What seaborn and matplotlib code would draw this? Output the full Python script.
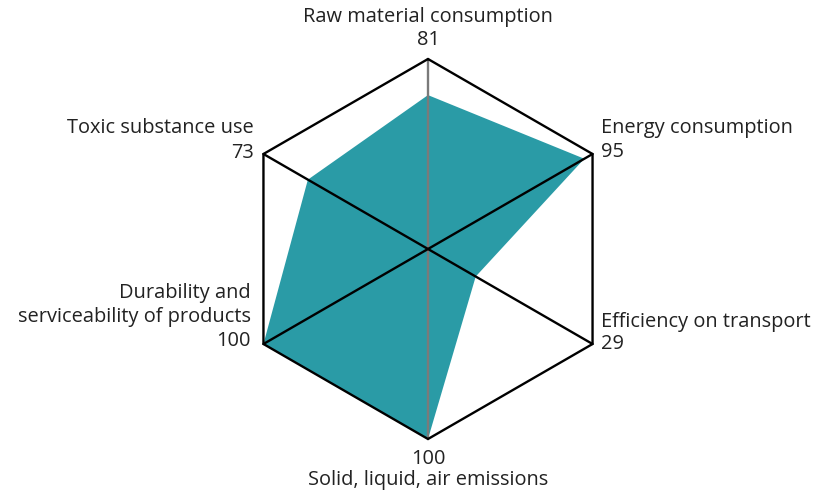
import numpy as np
import matplotlib
matplotlib.use("Agg")
import matplotlib.pyplot as plt
import seaborn as sns

# axis labels, clockwise from the top
categories = [
    "Raw material consumption",
    "Energy consumption",
    "Efficiency on transport",
    "Solid, liquid, air emissions",
    "Durability and\nserviceability of products",
    "Toxic substance use",
]
values = [81, 95, 29, 100, 100, 73]
max_value = 100

sns.set_style("white")
plt.rcParams['font.family'] = ['Open Sans', 'DejaVu Sans']

FILL = "#2a9ba6"
TEXT = "#222222"

# angles clockwise from top
angles = np.pi / 2 - np.arange(len(categories)) * 2 * np.pi / len(categories)
ux, uy = np.cos(angles), np.sin(angles)

fig = plt.figure(figsize=(8.18, 4.97), dpi=100)
ax = fig.add_axes([0, 0, 1, 1])
scale = 190.0
ax.set_xlim(-428 / scale, (818 - 428) / scale)
ax.set_ylim(-(497 - 249) / scale, 249 / scale)
ax.axis("off")

# data polygon
r = np.array(values) / max_value
ax.fill(r * ux, r * uy, color=FILL, lw=0, zorder=1)

# spokes: vertical one gray, diagonals black
for i in range(3):
    j = i + 3
    col = "#7a7a7a" if i == 0 else "black"
    ax.plot([ux[i], ux[j]], [uy[i], uy[j]], color=col, lw=1.7, zorder=2)

# outer hexagon
ax.plot(np.append(ux, ux[0]), np.append(uy, uy[0]), color="black", lw=1.7,
        zorder=3, solid_joinstyle="miter")

fs = 14.4
px = 1 / scale
def label(x, y, s, ha):
    ax.text(x, y, s, ha=ha, va="center", fontsize=fs, color=TEXT)

# top
label(0, (249 - 17) * px, categories[0], "center")
label(0, (249 - 40) * px, str(values[0]), "center")
# energy
label((601 - 428) * px, (249 - 128) * px, categories[1], "left")
label((601 - 428) * px, (249 - 152) * px, str(values[1]), "left")
# transport
label((601 - 428) * px, (249 - 322) * px, categories[2], "left")
label((601 - 428) * px, (249 - 344) * px, str(values[2]), "left")
# emissions
label(0, (249 - 459) * px, str(values[3]), "center")
label(0, (249 - 480) * px, categories[3], "center")
# durability
line1, line2 = categories[4].split("\n")
label((251 - 428) * px, (249 - 293) * px, line1, "right")
label((251 - 428) * px, (249 - 317) * px, line2, "right")
label((251 - 428) * px, (249 - 341) * px, str(values[4]), "right")
# toxic
label((254 - 428) * px, (249 - 128) * px, categories[5], "right")
label((254 - 428) * px, (249 - 153) * px, str(values[5]), "right")

fig.savefig("out.png", dpi=100, facecolor="white")
